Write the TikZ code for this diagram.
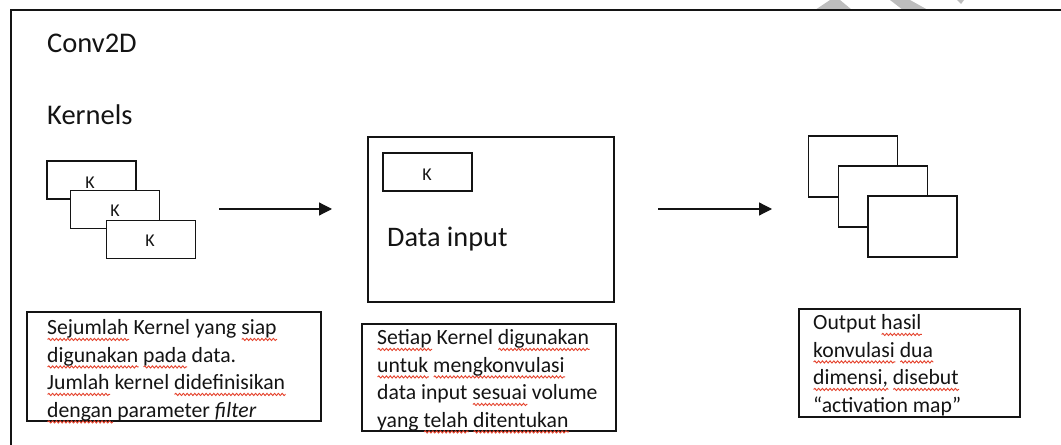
\documentclass[tikz,border=0pt]{standalone}
\usepackage{fontspec}
\setmainfont{Carlito}
\usetikzlibrary{arrows.meta,decorations.pathmorphing}

\definecolor{ink}{HTML}{141414}
\definecolor{spell}{HTML}{E5432D}
\definecolor{faintgrey}{HTML}{BDBDBD}

% red wavy spell-check underline beneath a word
\newlength\wavelen
\newcommand\wv[1]{\settowidth\wavelen{#1}%
  \rlap{\raisebox{-6bp}{\tikz\draw[spell,fill=none,line width=0.9bp,
      decorate,decoration={snake,segment length=3.8bp,amplitude=1.1bp}]
      (0bp,0bp) -- (\wavelen,0bp);}}#1}
% stacked lines with a fixed line pitch, baseline on the first line
\newcommand\stack[1]{\vtop{\baselineskip=27.5bp\lineskiplimit=-10bp #1}}

\begin{document}
\begin{tikzpicture}[x=1bp,y=-1bp,
  box/.style={draw=ink,line width=1.4bp,fill=white,rectangle,inner sep=0},
  kbox/.style={box,minimum width=89bp,minimum height=38bp},
  obox/.style={box,minimum width=89bp,minimum height=61bp},
  klabel/.style={font=\fontsize{18bp}{20bp}\selectfont,text=ink,inner sep=0},
  title/.style={font=\fontsize{28.5bp}{34bp}\selectfont,text=ink,inner sep=0,anchor=base west},
  body/.style={font=\fontsize{21.7bp}{27.5bp}\selectfont,text=ink,inner sep=0,anchor=base west},
  flow/.style={draw=ink,line width=1.2bp,-{Triangle[length=13bp,width=13bp]}}]

\useasboundingbox (0,0) rectangle (1061,445);
\fill[white] (0,0) rectangle (1061,445);

% faint marks above the frame
\fill[faintgrey] (815,10) -- (830,0) -- (840,0) -- (852,10) -- cycle;
\fill[faintgrey] (890,0) -- (910,0) -- (928,10) -- (903,10) -- cycle;
\fill[faintgrey] (957,0) -- (964,0) -- (961,4) -- cycle;

% outer frame
\draw[ink,line width=1.5bp] (1062,10) -- (11,10) -- (11,446);

% headings
\node[title] (conv) at (47,53) {Conv2D};
\node[title] (kern) at (47,125) {Kernels};

% stack of kernels
\node[kbox] (k1) at (91.5,180) {};
\node[klabel] (k1l) at (90,183) {K};
\node[kbox] (k2) at (115,209.5) {};
\node[klabel] (k2l) at (115,211) {K};
\node[kbox] (k3) at (151,239.5) {};
\node[klabel] (k3l) at (150,241) {K};

% input data with a kernel on it
\node[box,minimum width=246bp,minimum height=165bp] (data) at (491,219.5) {};
\node[kbox] (dk) at (427.5,172) {};
\node[klabel] (dkl) at (427,175) {K};
\node[font=\fontsize{28.3bp}{34bp}\selectfont,text=ink,inner sep=0,anchor=base west] (dtxt) at (387,247) {Data input};

% activation maps
\node[obox] (m1) at (853,166.5) {};
\node[obox] (m2) at (883,196.5) {};
\node[obox] (m3) at (912.5,226.5) {};

% flow arrows
\coordinate (a1s) at (219,209);
\coordinate (a1e) at (332,209);
\coordinate (a2s) at (658,209);
\coordinate (a2e) at (772,209);
\draw[flow] (a1s) -- (a1e);
\draw[flow] (a2s) -- (a2e);

% description boxes
\node[box,minimum width=294bp,minimum height=109bp] (d1) at (174,366.5) {};
\node[box,minimum width=254bp,minimum height=107bp] (d2) at (489,377.5) {};
\node[box,minimum width=221bp,minimum height=108bp] (d3) at (909.5,363) {};

\node[body] (t1) at (47,335) {\stack{%
  \hbox{\wv{Sejumlah} Kernel yang \wv{siap}}
  \hbox{\wv{digunakan} \wv{pada} data.}
  \hbox{\wv{Jumlah} kernel \wv{didefinisikan}}
  \hbox{\wv{dengan} parameter \textit{filter}}}};
\node[body] (t2) at (377,345) {\stack{%
  \hbox{\wv{Setiap} Kernel \wv{digunakan}}
  \hbox{\wv{untuk} \wv{mengkonvulasi}}
  \hbox{data input \wv{sesuai} volume}
  \hbox{yang \wv{telah} \wv{ditentukan}}}};
\node[body] (t3) at (813,330) {\stack{%
  \hbox{Output \wv{hasil}}
  \hbox{\wv{konvulasi} \wv{dua}}
  \hbox{\wv{dimensi,} \wv{disebut}}
  \hbox{“activation map”}}};
\end{tikzpicture}
\end{document}
